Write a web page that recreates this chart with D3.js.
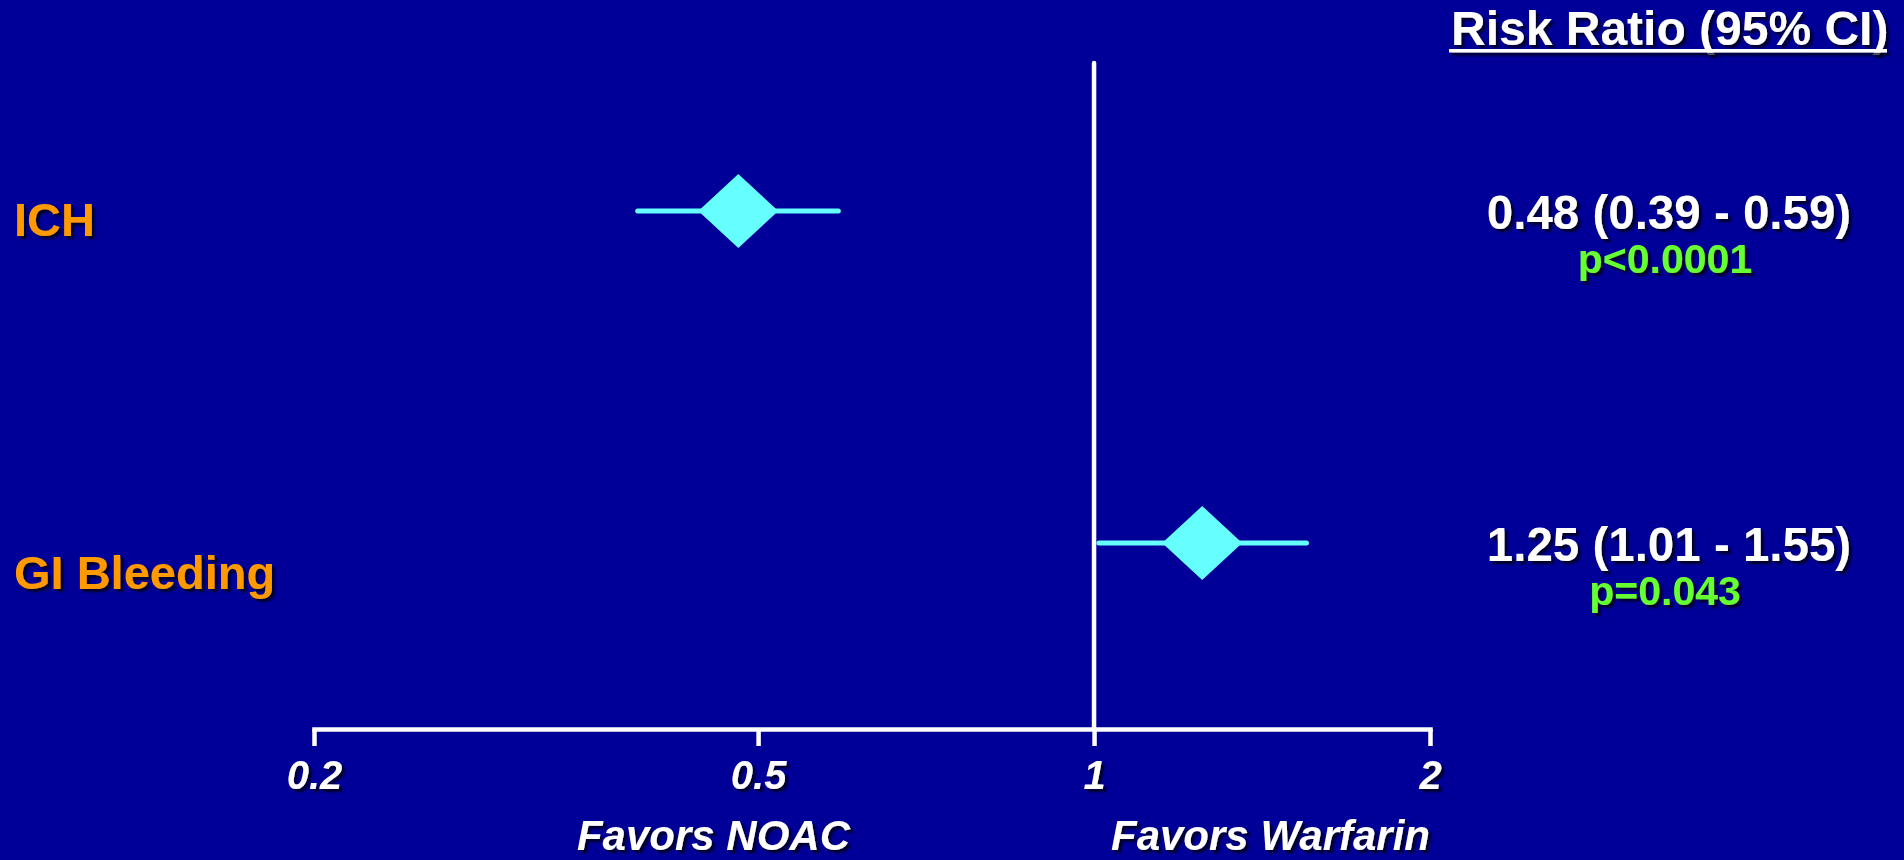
<!DOCTYPE html>
<html><head><meta charset="utf-8">
<script src="https://cdn.jsdelivr.net/npm/d3@7"></script>
<style>html,body{margin:0;padding:0;background:#000099;overflow:hidden}</style>
</head><body><svg id="c" width="1904" height="860"></svg>
<script>
const categories = ["ICH", "GI Bleeding"];
const riskRatio = [0.48, 1.25];
const ciLow = [0.39, 1.01];
const ciHigh = [0.59, 1.55];
const ciLabels = ["0.48 (0.39 - 0.59)", "1.25 (1.01 - 1.55)"];
const pLabels = ["p<0.0001", "p=0.043"];
const tickValues = [0.2, 0.5, 1, 2];
const tickLabels = ["0.2", "0.5", "1", "2"];
const favorLabels = ["Favors NOAC", "Favors Warfarin"];
const titleText = "Risk Ratio (95% CI)";

const FONT = "'Liberation Sans', Arial, sans-serif";
const svg = d3.select("#c");
svg.append("rect").attr("width", 1904).attr("height", 860).attr("fill", "#000099");

const defs = svg.append("defs");
const f = defs.append("filter").attr("id", "sh").attr("filterUnits", "userSpaceOnUse")
  .attr("x", -3000).attr("y", -3000).attr("width", 8000).attr("height", 8000);
f.append("feDropShadow").attr("dx", 3).attr("dy", 3).attr("stdDeviation", 1.3)
  .attr("flood-color", "#000014").attr("flood-opacity", 0.85);

const x = d3.scaleLog().domain([0.2, 2]).range([314, 1430]);
const y = d3.scalePoint().domain(categories).range([211, 543]);
const yLabel = d3.scalePoint().domain(categories).range([236, 589]);
const axisY = 729;

// vertical reference line at RR = 1
svg.append("line").attr("x1", x(1)).attr("x2", x(1)).attr("y1", 63).attr("y2", axisY)
  .attr("stroke", "#fff").attr("stroke-width", 4.5).attr("stroke-linecap", "round");

// axis
const axis = d3.axisBottom(x).tickValues(tickValues).tickFormat((d, i) => tickLabels[i])
  .tickSize(17).tickSizeOuter(0).tickPadding(14);
const gA = svg.append("g").attr("transform", `translate(0,${axisY})`).call(axis);
gA.select(".domain").attr("stroke", "#fff").attr("stroke-width", 4.5).attr("stroke-linecap", "square");
gA.selectAll(".tick line").attr("stroke", "#fff").attr("stroke-width", 4.5);
gA.selectAll(".tick text").attr("fill", "#fff").attr("font-family", FONT).attr("font-size", 40)
  .attr("font-weight", "bold").attr("font-style", "italic").attr("filter", "url(#sh)").attr("y", 32).attr("dy", "0.71em");
gA.attr("font-size", null).attr("font-family", null);

// CI lines and diamonds
const rows = categories.map((c, i) => ({c, rr: riskRatio[i], lo: ciLow[i], hi: ciHigh[i], ci: ciLabels[i], p: pLabels[i]}));
svg.selectAll(".ci").data(rows).join("line").attr("class", "ci")
  .attr("x1", d => x(d.lo)).attr("x2", d => x(d.hi)).attr("y1", d => y(d.c)).attr("y2", d => y(d.c))
  .attr("stroke", "#66FFFF").attr("stroke-width", 5).attr("stroke-linecap", "round");
svg.selectAll(".dm").data(rows).join("path").attr("class", "dm")
  .attr("d", d => { const cx = x(d.rr), cy = y(d.c), w = 40, h = 37; return `M${cx - w},${cy}L${cx},${cy - h}L${cx + w},${cy}L${cx},${cy + h}Z`; })
  .attr("fill", "#66FFFF");

// category labels
svg.selectAll(".cat").data(rows).join("text").attr("class", "cat")
  .attr("x", 14).attr("y", d => yLabel(d.c)).text(d => d.c)
  .attr("fill", "#FF9900").attr("font-family", FONT).attr("font-size", 47).attr("font-weight", "bold").attr("filter", "url(#sh)");

// right side values
const rx = 1669;
svg.selectAll(".civ").data(rows).join("text").attr("class", "civ")
  .attr("x", rx).attr("y", d => y(d.c) + 18).attr("text-anchor", "middle").text(d => d.ci)
  .attr("fill", "#fff").attr("font-family", FONT).attr("font-size", 47.5).attr("font-weight", "bold").attr("filter", "url(#sh)");
svg.selectAll(".pv").data(rows).join("text").attr("class", "pv")
  .attr("x", rx - 4).attr("y", d => y(d.c) + 62).attr("text-anchor", "middle").text(d => d.p)
  .attr("fill", "#66FF33").attr("font-family", FONT).attr("font-size", 41).attr("font-weight", "bold").attr("filter", "url(#sh)");

// title
svg.append("text").attr("x", 1451).attr("y", 45).text(titleText)
  .attr("fill", "#fff").attr("font-family", FONT).attr("font-size", 48).attr("font-weight", "bold").attr("filter", "url(#sh)");
svg.append("rect").attr("x", 1449).attr("width", 438).attr("y", 49).attr("height", 3.5)
  .attr("fill", "#fff").attr("filter", "url(#sh)");

// favors labels
svg.append("text").attr("x", 850).attr("y", 850).attr("text-anchor", "end").text(favorLabels[0])
  .attr("fill", "#fff").attr("font-family", FONT).attr("font-size", 42).attr("font-weight", "bold").attr("font-style", "italic").attr("filter", "url(#sh)");
svg.append("text").attr("x", 1430).attr("y", 850).attr("text-anchor", "end").text(favorLabels[1])
  .attr("fill", "#fff").attr("font-family", FONT).attr("font-size", 42).attr("font-weight", "bold").attr("font-style", "italic").attr("filter", "url(#sh)");
</script></body></html>
